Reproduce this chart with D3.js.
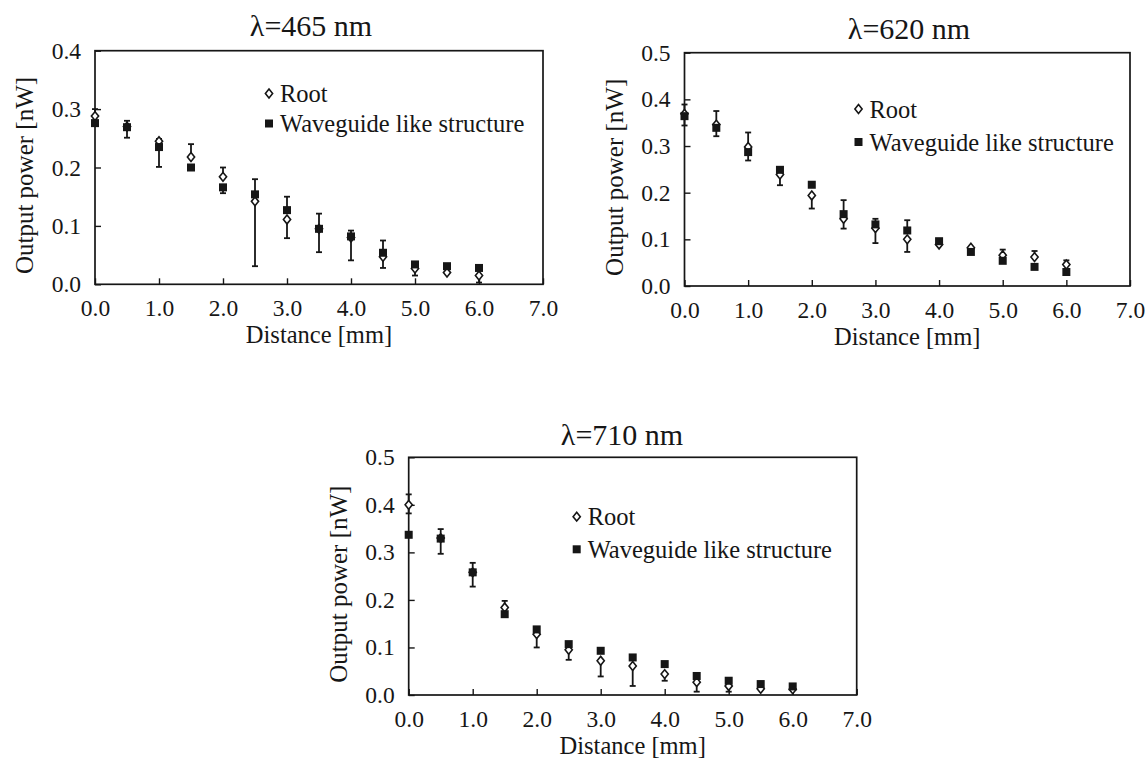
<!DOCTYPE html>
<html>
<head>
<meta charset="utf-8">
<script src="https://cdn.jsdelivr.net/npm/d3@7"></script>
<style>
  html, body { margin: 0; padding: 0; background: #fff; }
  svg { display: block; }
  text { font-family: "Liberation Serif", "Times New Roman", serif; fill: #161616; }
</style>
</head>
<body>
<svg id="chart" width="1146" height="760"></svg>
<script>
// Measurement positions along the sample [mm]
const distance = [0.0, 0.5, 1.0, 1.5, 2.0, 2.5, 3.0, 3.5, 4.0, 4.5, 5.0, 5.5, 6.0];
const xTicks = [0, 1, 2, 3, 4, 5, 6, 7];
const seriesNames = ["Root", "Waveguide like structure"];

// λ = 465 nm
const root465     = [0.288, 0.270, 0.245, 0.218, 0.184, 0.142, 0.111, 0.095, 0.080, 0.047, 0.027, 0.020, 0.015];
const rootUp465   = [0.012, 0, 0.004, 0.022, 0.016, 0, 0, 0, 0, 0, 0, 0, 0];
const rootDown465 = [0, 0, 0, 0, 0, 0.111, 0.032, 0, 0, 0.019, 0.012, 0, 0.012];
const wg465       = [0.276, 0.269, 0.235, 0.200, 0.166, 0.154, 0.127, 0.095, 0.082, 0.054, 0.034, 0.031, 0.028];
const wgUp465     = [0, 0.011, 0, 0, 0, 0.026, 0.023, 0.026, 0.010, 0.021, 0, 0, 0];
const wgDown465   = [0, 0.018, 0.034, 0, 0.010, 0, 0, 0.040, 0.041, 0, 0, 0, 0];
const yTicks465   = [0, 0.1, 0.2, 0.3, 0.4];

// λ = 620 nm
const root620     = [0.369, 0.346, 0.298, 0.239, 0.194, 0.144, 0.124, 0.100, 0.089, 0.082, 0.066, 0.062, 0.046];
const rootUp620   = [0.020, 0.029, 0.031, 0, 0, 0, 0, 0, 0, 0, 0.012, 0.013, 0.009];
const rootDown620 = [0.025, 0, 0, 0.023, 0.028, 0.021, 0.032, 0.027, 0, 0, 0, 0, 0];
const wg620       = [0.364, 0.339, 0.287, 0.249, 0.217, 0.154, 0.132, 0.119, 0.096, 0.073, 0.054, 0.041, 0.030];
const wgUp620     = [0, 0, 0, 0, 0, 0.030, 0.012, 0.022, 0, 0, 0, 0, 0];
const wgDown620   = [0, 0.018, 0.018, 0, 0, 0, 0, 0, 0, 0, 0, 0, 0];
const yTicks620   = [0, 0.1, 0.2, 0.3, 0.4, 0.5];

// λ = 710 nm
const root710     = [0.400, 0.330, 0.258, 0.184, 0.128, 0.095, 0.072, 0.061, 0.044, 0.027, 0.019, 0.013, 0.012];
const rootUp710   = [0.022, 0, 0, 0.014, 0, 0, 0, 0, 0, 0, 0, 0, 0];
const rootDown710 = [0.018, 0, 0, 0, 0.028, 0.021, 0.033, 0.042, 0.014, 0.020, 0.012, 0, 0];
const wg710       = [0.337, 0.329, 0.258, 0.170, 0.138, 0.107, 0.093, 0.079, 0.065, 0.040, 0.030, 0.023, 0.018];
const wgUp710     = [0, 0.020, 0.020, 0, 0, 0, 0, 0, 0, 0, 0, 0, 0];
const wgDown710   = [0, 0.032, 0.030, 0, 0, 0, 0, 0, 0, 0, 0, 0, 0];
const yTicks710   = [0, 0.1, 0.2, 0.3, 0.4, 0.5];

const svg = d3.select("#chart");
const INK = "#161616";

function diamondPath(cx, cy, w, h) {
  return `M${cx},${cy - h}L${cx + w},${cy}L${cx},${cy + h}L${cx - w},${cy}Z`;
}

function drawPanel(p) {
  const x = d3.scaleLinear().domain([0, 7]).range([p.left, p.right]);
  const y = d3.scaleLinear().domain([0, d3.max(p.yTicks)]).range([p.bottom, p.top]);
  const g = svg.append("g");
  const fmt = d3.format(".1f");

  // x axis, tick marks pointing into the plot
  const xAxis = g.append("g")
    .attr("transform", `translate(0,${p.bottom})`)
    .call(d3.axisBottom(x).tickValues(xTicks).tickSize(-6).tickPadding(15).tickFormat(fmt));
  xAxis.select(".domain").remove();
  xAxis.selectAll(".tick line").attr("stroke", INK).attr("stroke-width", 1.4);
  xAxis.selectAll("text").attr("font-size", 23.5).attr("font-family", "Liberation Serif").attr("fill", INK);

  // y axis
  const yAxis = g.append("g")
    .attr("transform", `translate(${p.left},0)`)
    .call(d3.axisLeft(y).tickValues(p.yTicks).tickSize(-6).tickPadding(14).tickFormat(fmt));
  yAxis.select(".domain").remove();
  yAxis.selectAll(".tick line").attr("stroke", INK).attr("stroke-width", 1.4);
  yAxis.selectAll("text").attr("font-size", 23.5).attr("font-family", "Liberation Serif").attr("fill", INK);

  // plot frame
  g.append("rect")
    .attr("x", p.left).attr("y", p.top)
    .attr("width", p.right - p.left).attr("height", p.bottom - p.top)
    .attr("fill", "none").attr("stroke", INK).attr("stroke-width", 1.7);

  // title and axis titles
  g.append("text")
    .attr("x", p.titleX).attr("y", p.top - p.titleGap)
    .attr("text-anchor", "middle").attr("font-size", 30)
    .text(p.title);
  g.append("text")
    .attr("x", (p.left + p.right) / 2).attr("y", p.bottom + 59)
    .attr("text-anchor", "middle").attr("font-size", 24.5)
    .text("Distance [mm]");
  g.append("text")
    .attr("transform", `translate(${p.left - 62},${(p.top + p.bottom) / 2 + 8}) rotate(-90)`)
    .attr("text-anchor", "middle").attr("font-size", 25)
    .text("Output power [nW]");

  const series = [
    { vals: p.root, up: p.rootUp, down: p.rootDown, kind: "diamond" },
    { vals: p.wg, up: p.wgUp, down: p.wgDown, kind: "square" }
  ];

  series.forEach(s => {
    const pts = distance.map((d, i) => ({ d, v: s.vals[i], up: s.up[i], down: s.down[i] }));
    const eg = g.append("g").attr("stroke", INK).attr("stroke-width", 1.8);
    pts.filter(q => q.up > 0 || q.down > 0).forEach(q => {
      const cx = x(q.d);
      const y1 = y(q.v + q.up), y2 = y(q.v - q.down);
      eg.append("line").attr("x1", cx).attr("x2", cx).attr("y1", y1).attr("y2", y2);
      if (q.up > 0) eg.append("line").attr("x1", cx - 3).attr("x2", cx + 3).attr("y1", y1).attr("y2", y1);
      if (q.down > 0) eg.append("line").attr("x1", cx - 3).attr("x2", cx + 3).attr("y1", y2).attr("y2", y2);
    });
    if (s.kind === "diamond") {
      g.append("g").selectAll("path").data(pts).join("path")
        .attr("d", q => diamondPath(x(q.d), y(q.v), 3.6, 4.4))
        .attr("fill", "#fff").attr("stroke", INK).attr("stroke-width", 1.6);
    } else {
      g.append("g").selectAll("rect").data(pts).join("rect")
        .attr("x", q => x(q.d) - 4).attr("y", q => y(q.v) - 4)
        .attr("width", 8).attr("height", 8)
        .attr("fill", INK);
    }
  });

  // legend
  const lx = p.legendX, ly = p.legendY, gap = p.legendGap;
  g.append("path").attr("d", diamondPath(lx, ly, 3.6, 4.4))
    .attr("fill", "#fff").attr("stroke", INK).attr("stroke-width", 1.6);
  g.append("text").attr("x", lx + 11).attr("y", ly).attr("dy", "0.35em")
    .attr("font-size", 24.5).text(seriesNames[0]);
  g.append("rect").attr("x", lx - 4).attr("y", ly + gap - 4)
    .attr("width", 8).attr("height", 8).attr("fill", INK);
  g.append("text").attr("x", lx + 11).attr("y", ly + gap).attr("dy", "0.35em")
    .attr("font-size", 24.5).text(seriesNames[1]);
}

drawPanel({
  title: "λ=465 nm", left: 95, right: 543, top: 50.7, bottom: 284.3,
  titleX: 311, titleGap: 15, legendX: 269, legendY: 93.5, legendGap: 30,
  yTicks: yTicks465,
  root: root465, rootUp: rootUp465, rootDown: rootDown465,
  wg: wg465, wgUp: wgUp465, wgDown: wgDown465
});
drawPanel({
  title: "λ=620 nm", left: 684.5, right: 1130, top: 52.7, bottom: 286,
  titleX: 909, titleGap: 14, legendX: 858.5, legendY: 109, legendGap: 33,
  yTicks: yTicks620,
  root: root620, rootUp: rootUp620, rootDown: rootDown620,
  wg: wg620, wgUp: wgUp620, wgDown: wgDown620
});
drawPanel({
  title: "λ=710 nm", left: 408.7, right: 856.7, top: 457.3, bottom: 695,
  titleX: 622, titleGap: 12.5, legendX: 576.7, legendY: 516.7, legendGap: 32.6,
  yTicks: yTicks710,
  root: root710, rootUp: rootUp710, rootDown: rootDown710,
  wg: wg710, wgUp: wgUp710, wgDown: wgDown710
});
</script>
</body>
</html>
